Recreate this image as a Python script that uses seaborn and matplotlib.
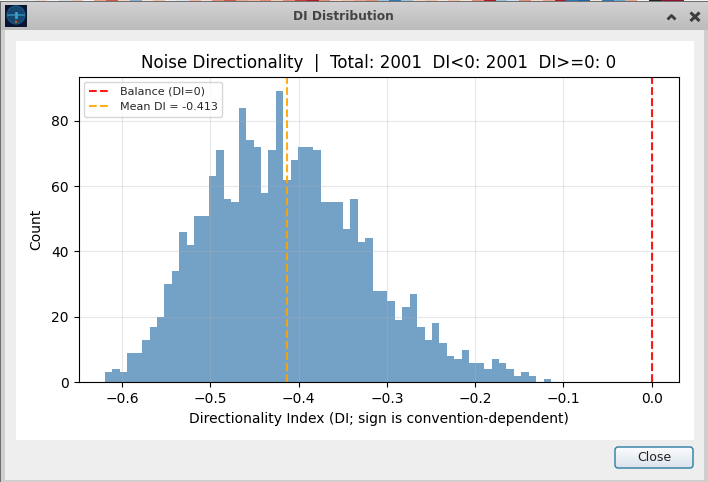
import numpy as np
import matplotlib
matplotlib.use("Agg")
import matplotlib.pyplot as plt
import seaborn as sns
from matplotlib.colors import to_rgb, LinearSegmentedColormap
from matplotlib.patches import Rectangle, FancyBboxPatch, Circle

# Histogram of the directionality index
bin_counts = [3, 4, 3, 9, 9, 13, 17, 20, 30, 34, 46, 42, 51, 51, 63,
              71, 56, 55, 84, 74, 72, 58, 71, 89, 62, 68, 72, 72, 71,
              55, 55, 55, 47, 56, 43, 44, 28, 28, 25, 19, 23, 27, 17, 13, 18,
              12, 8, 7, 10, 6, 6, 4, 7, 6, 4, 2, 3, 2, 0, 1]
di_min = -0.6196
di_max = -0.1141
mean_di = -0.413
balance_di = 0.0

title_text = "Noise Directionality  |  Total: 2001  DI<0: 2001  DI>=0: 0"
x_label = "Directionality Index (DI; sign is convention-dependent)"
y_label = "Count"
window_title = "DI Distribution"
button_label = "Close"

# Tiles of the desktop showing above the window's top edge
desktop_tiles = ["#f4f4f4", "#f4f4f4", "#e8eef2", "#f2d9c9", "#f4f4f4", "#cfe0ec", "#f0c4ac",
                 "#f4f4f4", "#e9a58a", "#cf5a4c", "#f3d3c0", "#7fb0d3", "#f4e3d8", "#f0c2aa",
                 "#eeeeee", "#d8e6f0", "#f0b8a0", "#f4e3d8", "#e58f74", "#cf5a4c", "#e8a78f",
                 "#f0b8a0", "#e58f74", "#f2cdb8", "#e58f74", "#c43c3c", "#b2182b", "#e58f74",
                 "#f4d9c9", "#f0c2aa", "#e8a78f", "#e58f74", "#9ac4dd", "#2f79b5", "#9ac4dd",
                 "#f4d9c9", "#f0c2aa", "#f4e3d8", "#f0c2aa", "#f4e3d8", "#e58f74", "#b2182b",
                 "#9ac4dd", "#cfe0ec", "#e58f74", "#f4d9c9", "#e8a78f", "#b2182b", "#2f79b5",
                 "#2166ac", "#f4e3d8", "#2f79b5", "#6aa5cd", "#e8a78f", "#f4f4f4", "#222222",
                 "#8f1030", "#8f1030", "#f4f4f4", "#f4f4f4"]

W, H = 708, 482
fig = plt.figure(figsize=(W / 100, H / 100), dpi=100, facecolor="#d0d0d0")

# Dialog frame, laid out in pixel coordinates
chrome = fig.add_axes([0, 0, 1, 1], zorder=0)
chrome.set_axis_off()


def gradient(top, bottom, extent, clip=None):
    cmap = LinearSegmentedColormap.from_list("g", [to_rgb(top), to_rgb(bottom)])
    im = chrome.imshow(np.linspace(0, 1, 64)[:, None], cmap=cmap, extent=extent,
                       aspect="auto", interpolation="bilinear", zorder=2)
    if clip is not None:
        im.set_clip_path(clip)
    return im


chrome.imshow(np.array([[to_rgb(c) for c in desktop_tiles]]), extent=(0, W, 2, 0),
              aspect="auto", interpolation="nearest", zorder=1)
chrome.add_patch(Rectangle((0, 2), W, H - 2, fc="#cfcfcf", ec="none", zorder=1))
chrome.add_patch(Rectangle((0, 1.2), W, 1.0, fc="#6f6f6f", ec="none", zorder=3))
chrome.add_patch(Rectangle((0, 2), 1.4, H, fc="#6f6f6f", ec="none", zorder=3))
gradient("#d2d0d2", "#bcbcbc", (1.4, W, 30, 2.2))
chrome.add_patch(Rectangle((5, 30), 699, 450, fc="#eeeeee", ec="none", zorder=3))
chrome.add_patch(Rectangle((16, 41), 678, 399, fc="white", ec="none", zorder=3))

# Application icon
chrome.add_patch(Rectangle((5, 5), 22, 22, fc="#0a1433", ec="none", zorder=3))
chrome.add_patch(Circle((16, 15), 9, fc="#14466e", ec="#1a5a84", lw=0.8, zorder=4))
chrome.plot([8, 24], [15, 15], color="#2f86b0", lw=1.2, zorder=5)
chrome.plot([16, 16], [13, 17], color="#3f9fc8", lw=2.0, zorder=5)
chrome.add_patch(Circle((16, 21.8), 1.3, fc="#c85a1c", ec="none", zorder=5))

# Window title and buttons
chrome.text(343.5, 16.3, window_title, ha="center", va="center", fontsize=8.8,
            fontweight="bold", color="#444444", zorder=5)
chrome.plot([667.5, 671.5, 675.5], [19.5, 15.5, 19.5], color="#3c3c3c", lw=2.0,
            solid_capstyle="butt", zorder=5)
chrome.plot([690.5, 699.5], [12.5, 21], color="#3c3c3c", lw=2.2, solid_capstyle="butt", zorder=5)
chrome.plot([690.5, 699.5], [21, 12.5], color="#3c3c3c", lw=2.2, solid_capstyle="butt", zorder=5)

button_outline = FancyBboxPatch((615, 447), 78, 21, boxstyle="round,pad=0,rounding_size=3",
                                fc="none", ec="none", zorder=3)
chrome.add_patch(button_outline)
gradient("#fbfcfd", "#dbe3ec", (615, 694, 468, 447), clip=button_outline).set_zorder(4)
chrome.add_patch(FancyBboxPatch((615, 447), 78, 21, boxstyle="round,pad=0,rounding_size=3",
                                fc="none", ec="#2b7ba3", lw=1.0, zorder=5))
chrome.text(654, 457.8, button_label, ha="center", va="center", fontsize=9,
            color="#222222", zorder=6)

chrome.set_xlim(0, W)
chrome.set_ylim(H, 0)

# Chart
sns.set_style("ticks")
plt.rcParams["font.family"] = ["DejaVu Sans"]
left, right, top, bottom = 78.7, 679.3, 76.5, 382.3
ax = fig.add_axes([left / W, 1 - bottom / H, (right - left) / W, (bottom - top) / H], zorder=1)
ax.set_facecolor("white")

edges = np.linspace(di_min, di_max, len(bin_counts) + 1)
centers = (edges[:-1] + edges[1:]) / 2
sns.histplot(x=centers, weights=bin_counts, bins=len(bin_counts), binrange=(di_min, di_max),
             color="steelblue", alpha=0.75, linewidth=0, ax=ax)

ax.axvline(balance_di, color="red", linestyle="--", linewidth=1.5, alpha=0.9,
           label="Balance (DI=0)")
ax.axvline(mean_di, color="orange", linestyle="--", linewidth=1.5, alpha=0.9,
           label=f"Mean DI = {mean_di:.3f}")

ax.set_xlim(-0.6493, 0.0313)
ax.set_ylim(0, 93.5)
ax.set_xticks([-0.6, -0.5, -0.4, -0.3, -0.2, -0.1, 0.0])
ax.set_yticks([0, 20, 40, 60, 80])
ax.grid(True, color="#b0b0b0", linewidth=0.8, alpha=0.3)
ax.set_axisbelow("line")
ax.tick_params(axis="both", labelsize=10, length=3.5, width=0.8, color="black", labelcolor="black",
               direction="out", bottom=True, left=True)
for side in ("left", "right", "top", "bottom"):
    ax.spines[side].set_visible(True)
    ax.spines[side].set_color("black")
    ax.spines[side].set_linewidth(0.8)

ax.set_title(title_text, fontsize=12, color="black", pad=6)
ax.set_xlabel(x_label, fontsize=10, color="black")
ax.set_ylabel(y_label, fontsize=10, color="black", labelpad=5.5)
ax.legend(loc="upper left", fontsize=8, frameon=True, framealpha=0.8, edgecolor="#cccccc",
          fancybox=True)

fig.savefig("out.png", dpi=100, facecolor=fig.get_facecolor())
